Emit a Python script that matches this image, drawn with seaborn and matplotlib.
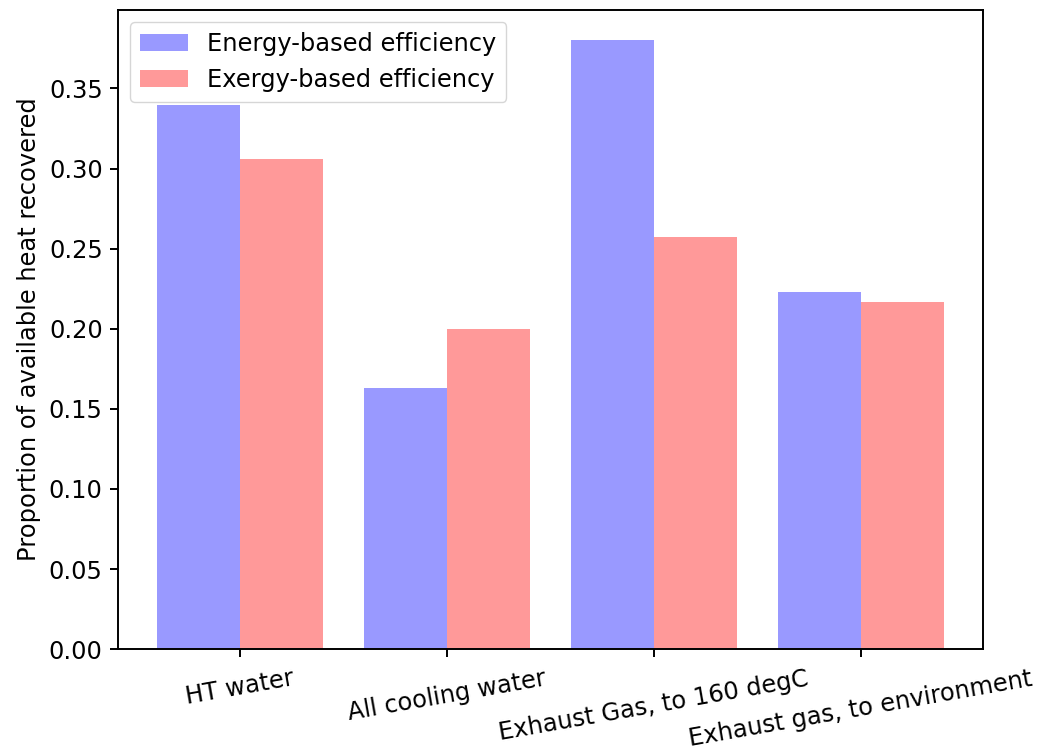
import matplotlib
matplotlib.use("Agg")
import matplotlib.pyplot as plt
import seaborn as sns
import pandas as pd

categories = ["HT water", "All cooling water", "Exhaust Gas, to 160 degC", "Exhaust gas, to environment"]
series_names = ["Energy-based efficiency", "Exergy-based efficiency"]
energy_vals = [0.340, 0.163, 0.380, 0.223]
exergy_vals = [0.306, 0.200, 0.257, 0.217]
colors = ["#9999ff", "#ff9999"]

rows = []
for c, v in zip(categories, energy_vals):
    rows.append({"cat": c, "series": series_names[0], "val": v})
for c, v in zip(categories, exergy_vals):
    rows.append({"cat": c, "series": series_names[1], "val": v})
df = pd.DataFrame(rows)

plt.rcParams["font.family"] = ["DejaVu Sans"]
plt.rcParams["font.size"] = 17.4
plt.rcParams["axes.linewidth"] = 1.4
plt.rcParams["xtick.major.width"] = 1.4
plt.rcParams["ytick.major.width"] = 1.4
plt.rcParams["xtick.major.size"] = 5.5
plt.rcParams["ytick.major.size"] = 5.5
plt.rcParams["xtick.major.pad"] = 7
plt.rcParams["ytick.major.pad"] = 5.5

fig = plt.figure(figsize=(10.38, 7.53), dpi=100)
ax = fig.add_axes([0.1137, 0.138, 0.8333, 0.8487])
sns.barplot(data=df, x="cat", y="val", hue="series", hue_order=series_names,
            palette=colors, saturation=1, width=0.8, ax=ax, errorbar=None)
ax.set_xlim(-0.59, 3.59)
ax.set_ylim(0, 0.399)
ax.set_xlabel("")
ax.set_ylabel("Proportion of available heat recovered", fontsize=17.4, labelpad=6)
ax.set_yticks([0.0, 0.05, 0.10, 0.15, 0.20, 0.25, 0.30, 0.35])
ax.set_yticklabels([f"{t:.2f}" for t in [0.0, 0.05, 0.10, 0.15, 0.20, 0.25, 0.30, 0.35]])
plt.setp(ax.get_xticklabels(), rotation=10, ha="center")
for s in ax.spines.values():
    s.set_visible(True)
handles, labels = ax.get_legend_handles_labels()
ax.legend(handles, labels, loc="upper left", fontsize=17.4, title=None)
fig.savefig("out.png", dpi=100)
